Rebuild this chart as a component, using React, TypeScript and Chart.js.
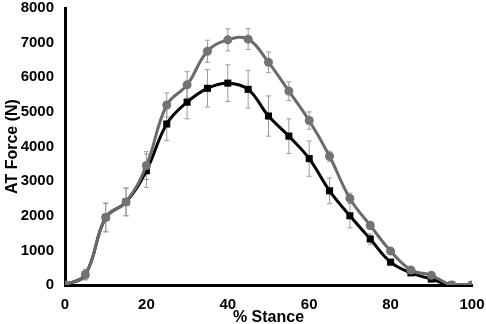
import React, { useEffect, useRef } from "react";
import { Chart, registerables } from "chart.js";

Chart.register(...registerables);

const stance = [0, 5, 10, 15, 20, 25, 30, 35, 40, 45, 50, 55, 60, 65, 70, 75, 80, 85, 90, 95, 100];
const grayForce = [0, 300, 1950, 2400, 3450, 5200, 5780, 6750, 7080, 7100, 6430, 5600, 4750, 3720, 2500, 1720, 980, 430, 280, 0, 0];
const grayErr = [0, 150, 400, 400, 400, 350, 380, 320, 320, 300, 300, 270, 250, 150, 150, 120, 80, 50, 50, 0, 0];
const blackForce = [0, 300, 1950, 2400, 3300, 4650, 5280, 5680, 5830, 5650, 4880, 4300, 3650, 2720, 2000, 1330, 660, 350, 170, 0, 0];
const blackErr = [0, 150, 420, 400, 480, 480, 480, 540, 530, 540, 580, 500, 510, 370, 350, 150, 80, 50, 40, 0, 0];
const xTicks = [0, 20, 40, 60, 80, 100];

const errorBarPlugin = {
  id: "errorBars",
  beforeDatasetsDraw(chart: any) {
    const ctx = chart.ctx;
    const xs = chart.scales.x;
    const ys = chart.scales.y;
    const sets = [
      { v: grayForce, e: grayErr },
      { v: blackForce, e: blackErr },
    ];
    ctx.save();
    ctx.strokeStyle = "#9a9a9a";
    ctx.lineWidth = 1;
    for (const s of sets) {
      stance.forEach((x, i) => {
        const err = s.e[i];
        if (!err) return;
        const px = xs.getPixelForValue(x);
        const top = ys.getPixelForValue(s.v[i] + err);
        const bot = ys.getPixelForValue(Math.max(0, s.v[i] - err));
        ctx.beginPath();
        ctx.moveTo(px, top);
        ctx.lineTo(px, bot);
        ctx.moveTo(px - 2.5, top);
        ctx.lineTo(px + 2.5, top);
        ctx.moveTo(px - 2.5, bot);
        ctx.lineTo(px + 2.5, bot);
        ctx.stroke();
      });
    }
    ctx.restore();
  },
};

export default function App() {
  const ref = useRef<HTMLCanvasElement>(null);
  useEffect(() => {
    document.body.style.margin = "0";
    const font = "'Liberation Sans', Arial, sans-serif";
    const chart = new Chart(ref.current!, {
      type: "line",
      data: {
        datasets: [
          {
            label: "Gray",
            data: stance.map((x, i) => ({ x, y: grayForce[i] })),
            borderColor: "#6a6a6a",
            backgroundColor: "#737373",
            borderWidth: 3,
            pointStyle: "circle",
            pointRadius: 4.5,
            pointBorderWidth: 0,
            tension: 0.4,
          },
          {
            label: "Black",
            data: stance.map((x, i) => ({ x, y: blackForce[i] })),
            borderColor: "#000000",
            backgroundColor: "#000000",
            borderWidth: 3,
            pointStyle: "rect",
            pointRadius: 5,
            pointBorderWidth: 0,
            tension: 0.4,
          },
        ],
      },
      options: {
        animation: false,
        responsive: false,
        maintainAspectRatio: false,
        layout: { padding: { top: 0, right: 0, left: 0, bottom: 0 } },
        plugins: { legend: { display: false }, tooltip: { enabled: false } },
        scales: {
          x: {
            type: "linear",
            min: 0,
            max: 100,
            afterBuildTicks: (s: any) => {
              s.ticks = xTicks.map((v) => ({ value: v }));
            },
            afterFit: (s: any) => {
              s.height = 39;
              s.paddingRight = 14;
            },
            grid: { display: false, drawTicks: false },
            border: { display: true, color: "#000", width: 3 },
            ticks: {
              color: "#000",
              font: { family: font, size: 15, weight: "bold" },
              padding: 11,
              callback: (v: any) => String(v),
            },
            title: {
              display: true,
              text: "% Stance",
              color: "#000",
              font: { family: font, size: 16, weight: "bold" },
              padding: { top: 0, bottom: -3 },
            },
          },
          y: {
            min: 0,
            max: 8000,
            afterFit: (s: any) => {
              s.width = 65;
              s.paddingTop = 8;
            },
            grid: { display: false, drawTicks: false },
            border: { display: true, color: "#000", width: 3 },
            ticks: {
              stepSize: 1000,
              color: "#000",
              font: { family: font, size: 15, weight: "bold" },
              padding: 11,
              callback: (v: any) => String(v),
            },
            title: {
              display: true,
              text: "AT Force (N)",
              color: "#000",
              font: { family: font, size: 16, weight: "bold" },
              padding: { top: 3, bottom: 0 },
            },
          },
        },
      },
      plugins: [errorBarPlugin],
    } as any);
    return () => chart.destroy();
  }, []);
  return (
    <div style={{ width: 486, height: 324 }}>
      <canvas ref={ref} width={486} height={324} style={{ width: 486, height: 324 }} />
    </div>
  );
}
